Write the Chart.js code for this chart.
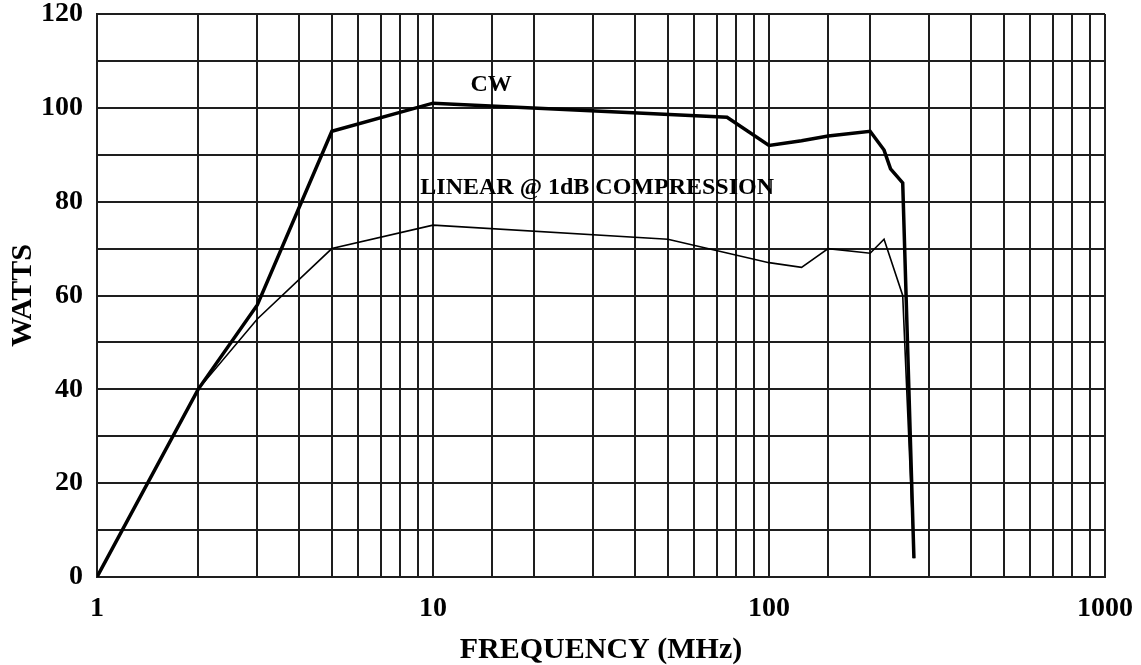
<!DOCTYPE html>
<html>
<head>
<meta charset="utf-8">
<script src="https://cdn.jsdelivr.net/npm/chart.js@4.4.0/dist/chart.umd.min.js"></script>
<style>
  html, body { margin: 0; padding: 0; background: #fff; }
  #wrap { width: 1141px; height: 665px; }
</style>
</head>
<body>
<div id="wrap"><canvas id="myChart" width="1141" height="665"></canvas></div>
<script>
// CW curve
var cwFreq  = [1, 2, 3, 5, 10, 75, 100, 125, 150, 200, 220, 230, 250, 270];
var cwWatts = [0, 40, 58, 95, 101, 98, 92, 93, 94, 95, 91, 87, 84, 4];

// linear @ 1dB compression curve
var linFreq  = [1, 2, 3, 5, 10, 50, 100, 125, 150, 200, 220, 250, 270];
var linWatts = [0, 40, 55, 70, 75, 72, 67, 66, 70, 69, 72, 60, 4];

var xLabels = [1, 10, 100, 1000];
var yLabels = [0, 20, 40, 60, 80, 100, 120];

// curve labels, placed at data coordinates
var noteText  = ["CW", "LINEAR @ 1dB COMPRESSION"];
var noteFreq  = [14.9, 30.8];
var noteWatts = [104.9, 82.9];

var fontFam = "'Liberation Serif', 'Times New Roman', serif";

function toPoints(fx, wy) {
	var pts = [];
	for (var i = 0; i < fx.length; i++) {
		pts.push({ x: fx[i], y: wy[i] });
	}
	return pts;
}

var notesPlugin = {
	id: "notes",
	afterDatasetsDraw: function(chart) {
		var ctx = chart.ctx;
		var xs = chart.scales.x, ys = chart.scales.y;
		ctx.save();
		ctx.fillStyle = "#000";
		ctx.font = "bold 24px " + fontFam;
		ctx.textAlign = "center";
		ctx.textBaseline = "middle";
		for (var i = 0; i < noteText.length; i++) {
			ctx.fillText(noteText[i], xs.getPixelForValue(noteFreq[i]), ys.getPixelForValue(noteWatts[i]));
		}
		ctx.restore();
	}
};

var gridCol = "#1e1e1e";

var ctx = document.getElementById("myChart");
var myChart = new Chart(ctx, {
	type: "line",
	data: {
		datasets: [
			{
				label: "CW",
				data: toPoints(cwFreq, cwWatts),
				borderColor: "#000",
				borderWidth: 3.5,
				pointRadius: 0,
				fill: false,
				tension: 0
			},
			{
				label: "LINEAR @ 1dB COMPRESSION",
				data: toPoints(linFreq, linWatts),
				borderColor: "#000",
				borderWidth: 1.6,
				pointRadius: 0,
				fill: false,
				tension: 0
			}
		]
	},
	options: {
		responsive: false,
		animation: false,
		devicePixelRatio: 1,
		layout: { padding: { left: 0, right: 36, top: 14, bottom: 0 } },
		plugins: {
			legend: { display: false },
			tooltip: { enabled: false }
		},
		scales: {
			x: {
				type: "logarithmic",
				min: 1,
				max: 1000,
				afterFit: function(s) {
					s.height = 88;
					s.paddingLeft = 0;
					s.paddingRight = 0;
				},
				grid: { color: gridCol, lineWidth: 2, drawTicks: false },
				border: { color: gridCol, width: 2 },
				ticks: {
					autoSkip: false,
					maxRotation: 0,
					padding: 18,
					color: "#000",
					font: { family: fontFam, size: 28, weight: "bold", lineHeight: 1 },
					callback: function(v) {
						return xLabels.indexOf(v) >= 0 ? String(v) : "";
					}
				},
				title: {
					display: true,
					text: "FREQUENCY (MHz)",
					color: "#000",
					padding: 0,
					font: { family: fontFam, size: 30, weight: "bold", lineHeight: 1 }
				}
			},
			y: {
				min: 0,
				max: 120,
				afterFit: function(s) {
					s.width = 97;
					s.paddingTop = 0;
					s.paddingBottom = 0;
				},
				grid: { color: gridCol, lineWidth: 2, drawTicks: false },
				border: { color: gridCol, width: 2 },
				ticks: {
					stepSize: 10,
					padding: 14,
					color: "#000",
					font: { family: fontFam, size: 28, weight: "bold", lineHeight: 1 },
					callback: function(v) {
						return yLabels.indexOf(v) >= 0 ? String(v) : "";
					}
				},
				title: {
					display: true,
					text: "WATTS",
					color: "#000",
					padding: { top: 5, bottom: 0 },
					font: { family: fontFam, size: 30, weight: "bold", lineHeight: 1.2 }
				}
			}
		}
	},
	plugins: [notesPlugin]
});
</script>
</body>
</html>
